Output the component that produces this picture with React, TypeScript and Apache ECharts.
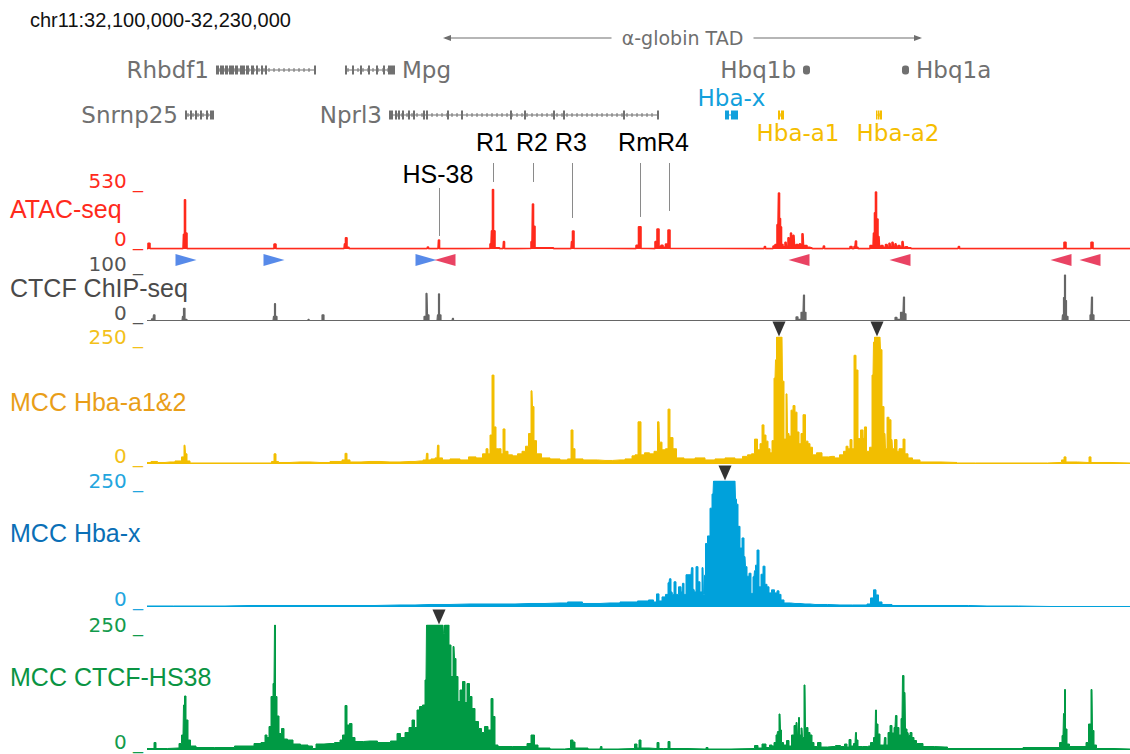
import React, { useEffect, useRef } from "react";
import * as echarts from "echarts";

// ---------------- data ----------------
const REGION_LABEL = "chr11:32,100,000-32,230,000";
const WINDOW_BINS = 983; // 130 kb window shown as 983 bins (~132 bp each)

const TRACK_NAMES = ["ATAC-seq", "CTCF ChIP-seq", "MCC Hba-a1&2", "MCC Hba-x", "MCC CTCF-HS38"];
const TRACK_TICKS = [[0, 530], [0, 100], [0, 250], [0, 250], [0, 250]];

// [bin, signal]
const ATAC: [number, number][] = [
  [0, 3], [2, 50], [4, 3],
  [36, 3], [37, 130], [38, 435], [39, 140], [41, 3],
  [126, 3], [128, 43], [130, 3],
  [197, 3], [198, 45], [199, 100], [201, 16], [203, 3],
  [280, 3], [281, 18], [282, 3],
  [291, 3], [292, 80], [293, 3],
  [342, 5], [344, 45], [345, 160], [346, 525], [347, 160], [349, 10],
  [356, 3], [357, 65], [358, 3],
  [383, 5], [385, 65], [386, 398], [387, 200], [389, 10],
  [424, 3], [425, 65], [426, 159], [428, 5],
  [488, 3], [490, 32], [493, 197], [495, 5],
  [507, 3], [509, 65], [511, 177], [513, 22], [515, 33], [517, 16], [520, 44], [522, 168], [524, 5],
  [617, 3], [618, 22], [619, 3],
  [625, 3], [627, 25], [629, 40], [631, 215], [632, 495], [633, 270], [634, 195], [635, 40], [637, 20],
  [639, 60], [640, 18], [642, 100], [643, 25], [644, 140], [645, 30], [647, 120], [648, 25], [650, 40],
  [652, 20], [653, 45], [654, 18], [656, 135], [657, 30], [659, 30], [661, 15], [664, 10], [666, 3],
  [676, 3], [677, 27], [678, 3],
  [702, 3], [704, 22], [706, 3], [708, 22], [709, 70], [710, 16], [712, 3],
  [722, 3], [724, 30], [726, 15], [727, 140], [728, 320], [729, 503], [730, 265], [732, 110], [733, 20],
  [735, 30], [737, 15], [740, 40], [741, 12], [743, 50], [744, 15], [746, 60], [747, 15], [749, 45],
  [750, 12], [752, 30], [754, 15], [756, 65], [757, 15], [759, 20], [762, 10], [766, 3],
  [811, 3], [812, 22], [813, 3],
  [916, 3], [918, 60], [920, 3],
  [943, 3], [945, 60], [947, 3],
  [983, 3],
];

const CTCF_CHIP: [number, number][] = [
  [0, 1], [3, 1], [6, 4], [7, 12], [9, 1],
  [35, 1], [36, 9], [37, 25], [39, 3], [41, 1],
  [126, 1], [127, 9], [128, 34], [129, 9], [131, 1],
  [160, 1], [162, 3], [163, 1],
  [174, 1], [176, 12], [178, 1],
  [276, 1], [278, 9], [280, 54], [281, 12], [283, 1],
  [290, 1], [291, 12], [292, 53], [293, 12], [295, 1],
  [305, 1], [306, 5], [307, 1],
  [648, 1], [650, 8], [652, 3], [656, 17], [657, 51], [658, 17], [660, 1],
  [747, 1], [749, 7], [751, 3], [756, 17], [757, 47], [758, 14], [760, 1],
  [915, 1], [916, 12], [917, 46], [918, 90], [919, 40], [920, 9], [922, 1],
  [942, 1], [944, 12], [945, 47], [946, 12], [948, 1],
  [983, 1],
];

const MCC_HBA_A: [number, number][] = [
  [0, 3], [8, 5], [13, 3], [23, 4], [33, 6], [36, 14], [38, 37], [39, 20], [41, 6], [45, 2],
  [123, 2], [126, 5], [128, 20], [130, 5], [133, 3], [153, 4], [173, 3], [193, 5],
  [197, 8], [199, 21], [201, 8], [205, 4], [223, 5], [243, 4], [263, 5], [273, 6],
  [279, 8], [280, 21], [282, 8], [286, 10], [290, 12], [291, 37], [293, 12], [298, 8], [308, 10], [318, 8],
  [325, 14], [333, 12], [338, 20], [340, 30], [342, 20], [344, 57], [346, 175], [348, 73], [350, 30],
  [353, 30], [355, 20], [357, 69], [359, 25], [363, 18], [368, 16], [373, 20], [377, 25], [380, 35],
  [383, 60], [385, 144], [386, 113], [388, 46], [391, 20], [398, 12], [408, 10], [418, 8],
  [423, 10], [425, 67], [427, 30], [429, 10], [443, 8], [458, 7], [473, 8], [483, 10], [487, 16], [489, 18],
  [493, 83], [495, 18], [500, 22], [505, 20], [509, 25], [512, 83], [513, 43], [517, 28], [520, 30],
  [522, 108], [524, 52], [528, 30], [531, 12], [543, 10], [553, 12], [563, 8], [573, 10], [583, 12],
  [593, 10], [598, 15], [603, 18], [606, 20], [609, 49], [612, 28], [614, 40], [616, 77], [618, 57],
  [620, 45], [622, 30], [624, 22], [626, 46], [628, 169], [629, 205], [630, 250], [635, 250], [636, 163],
  [638, 49], [640, 138], [641, 60], [643, 55], [645, 106], [647, 115], [649, 102], [651, 63], [653, 40],
  [655, 60], [657, 97], [660, 45], [662, 40], [664, 33], [667, 18], [672, 22], [678, 14], [685, 15],
  [690, 12], [695, 18], [698, 25], [700, 35], [702, 30], [704, 48], [706, 30], [708, 214], [710, 185],
  [712, 50], [715, 67], [717, 50], [718, 73], [721, 25], [724, 33], [726, 175], [727, 240], [728, 250],
  [733, 250], [734, 225], [736, 113], [738, 60], [739, 30], [741, 92], [743, 87], [745, 48], [746, 30],
  [749, 48], [751, 25], [753, 30], [755, 30], [757, 49], [759, 20], [763, 12], [768, 8], [778, 4],
  [810, 3], [811, 2], [846, 2], [888, 2], [913, 3], [916, 8], [918, 14], [920, 4], [941, 3], [943, 14],
  [945, 3], [983, 2],
];

const MCC_HBA_X: [number, number][] = [
  [0, 2], [53, 2], [103, 3], [153, 3], [203, 3], [253, 4], [283, 5], [323, 6], [353, 6], [383, 7],
  [413, 8], [428, 10], [443, 7], [463, 8], [483, 10], [498, 12], [505, 14], [508, 10], [511, 26],
  [513, 12], [517, 20], [520, 25], [522, 48], [523, 56], [525, 30], [526, 25], [528, 50], [530, 25],
  [533, 40], [535, 30], [536, 47], [538, 25], [540, 64], [544, 64], [545, 78], [547, 35], [548, 30],
  [550, 80], [552, 50], [554, 30], [556, 78], [557, 25], [558, 63], [559, 126], [562, 141], [564, 196],
  [566, 224], [567, 250], [588, 250], [589, 214], [590, 204], [592, 160], [594, 117], [596, 137],
  [598, 100], [599, 80], [601, 61], [603, 67], [605, 27], [607, 60], [608, 72], [609, 83], [611, 113],
  [613, 40], [615, 65], [617, 81], [619, 45], [621, 40], [623, 28], [626, 34], [629, 28], [631, 32],
  [633, 25], [635, 14], [639, 8], [648, 7], [658, 6], [668, 5], [693, 4], [718, 4], [722, 6], [725, 18],
  [728, 34], [730, 24], [733, 10], [737, 5], [753, 3], [803, 3], [840, 2], [903, 1], [983, 1],
];

const MCC_HS38: [number, number][] = [
  [0, 3], [6, 3], [8, 15], [10, 3], [31, 4], [33, 13], [36, 30], [37, 90], [38, 108], [40, 60], [42, 20],
  [45, 8], [53, 5], [82, 5], [93, 8], [103, 8], [111, 13], [117, 15], [119, 30], [121, 25], [123, 47],
  [125, 107], [127, 133], [128, 250], [129, 107], [131, 68], [133, 33], [136, 43], [138, 22], [143, 20],
  [149, 12], [158, 10], [164, 8], [167, 3], [171, 12], [183, 13], [192, 15], [194, 20], [197, 30],
  [199, 89], [201, 50], [204, 53], [206, 25], [210, 17], [223, 18], [238, 15], [249, 18], [251, 33],
  [256, 25], [260, 35], [264, 45], [266, 60], [269, 45], [271, 80], [274, 87], [277, 90], [279, 140],
  [280, 250], [296, 250], [297, 233], [298, 250], [301, 250], [303, 210], [305, 147], [307, 207],
  [308, 183], [310, 147], [312, 97], [314, 120], [317, 137], [319, 95], [321, 133], [324, 107], [326, 83],
  [330, 57], [333, 43], [336, 35], [339, 47], [343, 40], [345, 103], [347, 67], [349, 10], [353, 7],
  [378, 7], [382, 13], [386, 30], [389, 10], [393, 4], [413, 2], [422, 3], [425, 20], [427, 16], [429, 4],
  [453, 2], [454, 7], [456, 2], [486, 3], [489, 12], [491, 4], [493, 20], [495, 4], [509, 3], [511, 15],
  [513, 3], [520, 3], [522, 17], [524, 3], [558, 2], [560, 5], [562, 2], [606, 3], [609, 9], [613, 4],
  [617, 12], [621, 5], [624, 10], [626, 8], [628, 15], [630, 30], [631, 37], [633, 72], [634, 40],
  [635, 15], [638, 10], [641, 19], [643, 8], [646, 30], [648, 49], [650, 55], [651, 30], [652, 65],
  [653, 30], [655, 44], [656, 25], [658, 130], [659, 45], [660, 45], [662, 35], [664, 30], [666, 15],
  [668, 7], [673, 15], [675, 6], [686, 7], [691, 9], [696, 7], [699, 12], [701, 6], [703, 21], [705, 8],
  [708, 13], [709, 35], [710, 20], [712, 7], [719, 7], [722, 8], [725, 15], [728, 25], [729, 80],
  [730, 52], [732, 32], [734, 10], [737, 10], [738, 25], [740, 10], [742, 35], [744, 49], [746, 34],
  [748, 45], [749, 69], [751, 45], [753, 30], [755, 63], [756, 149], [758, 115], [759, 42], [761, 35],
  [762, 29], [764, 35], [766, 25], [768, 19], [771, 13], [775, 13], [777, 7], [798, 6], [803, 3],
  [875, 3], [877, 5], [911, 5], [914, 15], [916, 29], [917, 73], [918, 121], [919, 42], [921, 12],
  [924, 7], [938, 7], [940, 15], [943, 52], [945, 121], [946, 39], [948, 10], [951, 3], [983, 2],
];

const SIGNALS = [ATAC, CTCF_CHIP, MCC_HBA_A, MCC_HBA_X, MCC_HS38];

// CTCF motif orientation (bins)
const CTCF_MOTIF_FWD = [39, 127, 279];
const CTCF_MOTIF_REV = [298, 652, 753, 914, 943];

// MCC viewpoints (clipped peaks), per track
const VIEWPOINTS: number[][] = [[], [], [632, 730], [578], [292]];

// TAD
const TAD_LABEL = "α-globin TAD";
const TAD_START = 296;
const TAD_END = 775;

// regulatory elements
const ELEMENT_NAMES = ["HS-38", "R1", "R2", "R3", "RmR4"];
const ELEMENT_SITES = [[292], [346], [386], [425], [493, 522]];
const ELEMENT_TIPS = [[115], [592], [592], [274], [283, 336]];

// genes
const GENE_NAMES = ["Rhbdf1", "Mpg", "Hbq1b", "Hbq1a", "Snrnp25", "Nprl3", "Hba-x", "Hba-a1", "Hba-a2"];
const GENE_STARTS = [69, 198, 656, 755, 38, 242, 578, 631, 729];
const GENE_ENDS = [168, 247, 662, 761, 66, 511, 590, 636, 734];
const GENE_EXONS: [number, number][][] = [
  [[69, 71], [73, 76], [78, 80], [82, 86], [88, 90], [93, 97], [99, 101], [104, 106], [109, 110], [114, 115], [118, 119], [167, 168]],
  [[198, 199], [205, 206], [213, 214], [221, 222], [229, 230], [236, 237], [241, 247]],
  [[656, 662]],
  [[755, 761]],
  [[38, 39], [43, 44], [48, 49], [53, 54], [59, 60], [63, 66]],
  [[242, 245], [248, 249], [251, 252], [255, 256], [261, 262], [266, 267], [276, 277], [279, 280], [300, 301], [314, 315], [363, 364], [377, 378], [406, 407], [416, 417], [476, 477], [510, 511]],
  [[578, 581], [584, 590]],
  [[631, 632], [634, 636]],
  [[729, 729], [731, 731], [733, 734]],
];

// ---------------- styles / layout ----------------
const FONT = '"Liberation Sans", Arial, Helvetica, sans-serif';
const FONT_WIDE = '"DejaVu Sans", Verdana, sans-serif';
const GRID_LEFT = 147;
const GRID_WIDTH = 983;

const TRACK_STYLE = [
  { top: 189, height: 60, color: "#ff2a1c", tick: "#ff2a1c", label: "#ff2a1c", labelY: 209, hiAlign: "bottom", hiLH: 16, loLH: 20, lw: 1.6 },
  { top: 270, height: 51, color: "#666666", tick: "#555555", label: "#4a4a4a", labelY: 288, hiAlign: "bottom", hiLH: 12, loLH: 16, lw: 1.2 },
  { top: 337, height: 127, color: "#f2be00", tick: "#f3c11a", label: "#e99e18", labelY: 402, hiAlign: "middle", hiLH: 16, loLH: 16, lw: 1 },
  { top: 481, height: 126, color: "#00a1db", tick: "#22a5de", label: "#0b6fb6", labelY: 533, hiAlign: "middle", hiLH: 16, loLH: 16, lw: 1 },
  { top: 625, height: 125, color: "#009a44", tick: "#129b4c", label: "#0a9443", labelY: 677, hiAlign: "middle", hiLH: 16, loLH: 16, lw: 1 },
];

const GRAY = "#707070";
const GENE_ROW_Y = [70, 115];
const GENE_LAYOUT: Record<string, any> = {
  Rhbdf1: { row: 0, side: "left", color: GRAY },
  Mpg: { row: 0, side: "right", color: GRAY },
  Hbq1b: { row: 0, side: "left", color: GRAY, round: true },
  Hbq1a: { row: 0, side: "right", color: GRAY, round: true },
  Snrnp25: { row: 1, side: "left", color: GRAY },
  Nprl3: { row: 1, side: "left", color: GRAY },
  "Hba-x": { row: 1, side: "center", dx: 0, dy: -17, color: "#12a0dc" },
  "Hba-a1": { row: 1, side: "center", dx: 17, dy: 18, color: "#f5bd00" },
  "Hba-a2": { row: 1, side: "center", dx: 19, dy: 18, color: "#f5bd00" },
};
const ELEMENT_ROW: Record<string, number> = { "HS-38": 1, R1: 0, R2: 0, R3: 0, RmR4: 0 };

function textStyle(extra: any) {
  const s: any = { ...extra };
  if (s.align) s.textAlign = s.align;
  if (s.verticalAlign) s.textVerticalAlign = s.verticalAlign;
  return s;
}

function buildOption() {
  const mkGrid = (top: number, height: number) => ({
    left: GRID_LEFT,
    width: GRID_WIDTH,
    top,
    height,
    containLabel: false,
    outerBoundsMode: "none",
  });
  const grids: any[] = [mkGrid(0, 186)];
  TRACK_STYLE.forEach((s) => grids.push(mkGrid(s.top, s.height)));
  grids.push(mkGrid(253, 14));
  const MOTIF_GRID = grids.length - 1;

  const xAxes = grids.map((_, i) => ({ type: "value", gridIndex: i, min: 0, max: WINDOW_BINS, show: false }));
  const yAxes: any[] = [{ type: "value", gridIndex: 0, min: 0, max: 1, show: false }];
  const tickAxisBase = (gridIndex: number, lo: number, hi: number) => ({
    type: "value",
    gridIndex,
    position: "left",
    offset: 0,
    min: lo,
    max: hi,
    interval: hi - lo,
    axisLine: { show: false },
    axisTick: { show: false },
    splitLine: { show: false },
  });
  // primary axes (index 1..5) carry the series and the bottom "0 _" label
  TRACK_STYLE.forEach((s, i) => {
    const [lo, hi] = TRACK_TICKS[i];
    yAxes.push({
      ...tickAxisBase(i + 1, lo, hi),
      axisLabel: {
        margin: 4,
        showMaxLabel: false,
        formatter: (v: number) => `${v} _`,
        color: s.tick,
        fontSize: 20,
        fontFamily: FONT_WIDE,
        verticalAlign: "bottom",
        lineHeight: s.loLH,
      },
    });
  });
  yAxes.push({ type: "value", gridIndex: MOTIF_GRID, min: 0, max: 1, show: false });
  // secondary axes carry only the top label of each track
  TRACK_STYLE.forEach((s, i) => {
    const [lo, hi] = TRACK_TICKS[i];
    yAxes.push({
      ...tickAxisBase(i + 1, lo, hi),
      axisLabel: {
        margin: 4,
        showMinLabel: false,
        formatter: (v: number) => `${v} _`,
        color: s.tick,
        fontSize: 20,
        fontFamily: FONT_WIDE,
        verticalAlign: s.hiAlign,
        lineHeight: s.hiLH,
      },
    });
  });

  const series: any[] = [];

  SIGNALS.forEach((data, i) => {
    const s = TRACK_STYLE[i];
    series.push({
      type: "line",
      xAxisIndex: i + 1,
      yAxisIndex: i + 1,
      data,
      step: "middle",
      symbol: "none",
      showSymbol: false,
      silent: true,
      lineStyle: { width: s.lw, color: s.color },
      areaStyle: { color: s.color, opacity: 1 },
      z: 2,
    });
    if (VIEWPOINTS[i].length) {
      series.push({
        type: "scatter",
        xAxisIndex: i + 1,
        yAxisIndex: i + 1,
        data: VIEWPOINTS[i].map((b) => [b, TRACK_TICKS[i][1]]),
        symbol: "triangle",
        symbolRotate: 180,
        symbolSize: [13, 15],
        symbolOffset: [0, -8],
        itemStyle: { color: "#000" },
        clip: false,
        silent: true,
        z: 5,
      });
    }
  });

  // CTCF motifs
  series.push({
    type: "scatter",
    xAxisIndex: MOTIF_GRID,
    yAxisIndex: MOTIF_GRID,
    data: CTCF_MOTIF_FWD.map((b) => [b, 0.5]),
    symbol: "triangle",
    symbolRotate: -90,
    symbolSize: [12, 21],
    itemStyle: { color: "#2d6de3" },
    silent: true,
    clip: false,
  });
  series.push({
    type: "scatter",
    xAxisIndex: MOTIF_GRID,
    yAxisIndex: MOTIF_GRID,
    data: CTCF_MOTIF_REV.map((b) => [b, 0.5]),
    symbol: "triangle",
    symbolRotate: 90,
    symbolSize: [12, 21],
    itemStyle: { color: "#e3143c" },
    silent: true,
    clip: false,
  });

  // genes
  series.push({
    type: "custom",
    xAxisIndex: 0,
    yAxisIndex: 0,
    clip: false,
    silent: true,
    data: GENE_NAMES.map((_, i) => [GENE_STARTS[i], GENE_ENDS[i]]),
    renderItem: (params: any, api: any) => {
      const i = params.dataIndex;
      const name = GENE_NAMES[i];
      const lay = GENE_LAYOUT[name];
      const y = GENE_ROW_Y[lay.row];
      const px = (b: number) => api.coord([b, 0])[0];
      const x1 = px(GENE_STARTS[i]);
      const x2 = px(GENE_ENDS[i] + 1);
      const children: any[] = [];
      children.push({ type: "line", shape: { x1, y1: y, x2, y2: y }, style: { stroke: lay.color, lineWidth: 1 } });
      for (let x = x1 + 3; x < x2 - 2; x += 5) {
        children.push({ type: "line", shape: { x1: x, y1: y - 2, x2: x, y2: y + 2 }, style: { stroke: lay.color, lineWidth: 1 } });
      }
      GENE_EXONS[i].forEach(([s, e]) => {
        const a = px(s);
        const b = px(e + 1);
        children.push({
          type: "rect",
          shape: { x: a, y: y - 4.5, width: Math.max(b - a, 1.5), height: 9, r: lay.round ? 3 : 0 },
          style: { fill: lay.color },
        });
      });
      let tx = 0;
      let ty = y;
      let align = "center";
      if (lay.side === "left") {
        tx = x1 - 7;
        align = "right";
      } else if (lay.side === "right") {
        tx = x2 + 7;
        align = "left";
      } else {
        tx = (x1 + x2) / 2 + lay.dx;
        ty = y + lay.dy;
      }
      children.push({
        type: "text",
        style: textStyle({ x: tx, y: ty, text: name, fill: lay.color, fontSize: 23, fontFamily: FONT_WIDE, align, verticalAlign: "middle" }),
      });
      return { type: "group", children };
    },
  });

  // TAD
  series.push({
    type: "custom",
    xAxisIndex: 0,
    yAxisIndex: 0,
    clip: false,
    silent: true,
    data: [[TAD_START, TAD_END]],
    renderItem: (_p: any, api: any) => {
      const x1 = api.coord([TAD_START, 0])[0];
      const x2 = api.coord([TAD_END, 0])[0];
      const y = 38;
      const mid = (x1 + x2) / 2;
      const half = 71;
      const c = "#6e6e6e";
      return {
        type: "group",
        children: [
          { type: "line", shape: { x1: x1 + 2, y1: y, x2: mid - half, y2: y }, style: { stroke: c, lineWidth: 1.2 } },
          { type: "line", shape: { x1: mid + half, y1: y, x2: x2 - 2, y2: y }, style: { stroke: c, lineWidth: 1.2 } },
          { type: "polygon", shape: { points: [[x1, y], [x1 + 8, y - 3], [x1 + 8, y + 3]] }, style: { fill: c } },
          { type: "polygon", shape: { points: [[x2, y], [x2 - 8, y - 3], [x2 - 8, y + 3]] }, style: { fill: c } },
          { type: "text", style: textStyle({ x: mid, y, text: TAD_LABEL, fill: c, fontSize: 19, fontFamily: FONT_WIDE, align: "center", verticalAlign: "middle" }) },
        ],
      };
    },
  });

  // regulatory elements (on ATAC coordinates)
  series.push({
    type: "custom",
    xAxisIndex: 1,
    yAxisIndex: 1,
    clip: false,
    silent: true,
    data: ELEMENT_NAMES.map((_, i) => [ELEMENT_SITES[i][0], ELEMENT_TIPS[i][0]]),
    renderItem: (_p: any, api: any) => {
      const i = _p.dataIndex;
      const name = ELEMENT_NAMES[i];
      const row = ELEMENT_ROW[name];
      const labelY = row === 0 ? 142 : 174;
      const lineTop = row === 0 ? 163 : 188;
      const xs = ELEMENT_SITES[i].map((b) => api.coord([b, 0])[0]);
      const children: any[] = ELEMENT_SITES[i].map((b, k) => {
        const yb = api.coord([b, ELEMENT_TIPS[i][k]])[1];
        return { type: "line", shape: { x1: xs[k] + 0.5, y1: lineTop, x2: xs[k] + 0.5, y2: yb }, style: { stroke: "#8a8a8a", lineWidth: 1 } };
      });
      const cx = xs.reduce((a, b) => a + b, 0) / xs.length - 1;
      children.push({ type: "text", style: textStyle({ x: cx, y: labelY, text: name, fill: "#000", fontSize: 25, fontFamily: FONT, align: "center", verticalAlign: "middle" }) });
      return { type: "group", children };
    },
  });

  const graphic = TRACK_NAMES.map((name, i) => ({
    type: "text",
    x: 10,
    y: TRACK_STYLE[i].labelY,
    silent: true,
    style: textStyle({ text: name, fill: TRACK_STYLE[i].label, fontSize: 25, fontFamily: FONT, verticalAlign: "middle", align: "left" }),
  }));

  return {
    animation: false,
    backgroundColor: "#ffffff",
    title: { text: REGION_LABEL, left: 25, top: 5, textStyle: { fontSize: 20, fontWeight: "normal", color: "#111", fontFamily: FONT } },
    grid: grids,
    xAxis: xAxes,
    yAxis: yAxes,
    series,
    graphic,
  };
}

export default function App() {
  const ref = useRef<HTMLDivElement>(null);
  useEffect(() => {
    const chart = echarts.init(ref.current as HTMLDivElement, null, { renderer: "svg" });
    chart.setOption(buildOption() as any);
    return () => chart.dispose();
  }, []);
  return <div ref={ref} style={{ position: "absolute", left: 0, top: 0, width: 1130, height: 754, background: "#fff" }} />;
}
